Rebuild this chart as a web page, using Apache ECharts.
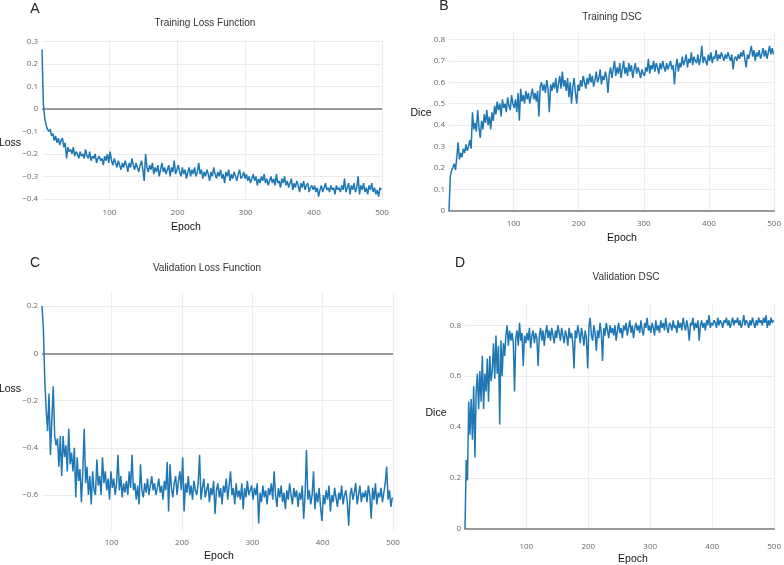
<!DOCTYPE html>
<html><head><meta charset="utf-8">
<script src="https://cdn.jsdelivr.net/npm/echarts@6/dist/echarts.min.js"></script>
<style>html,body{margin:0;padding:0;background:#fff}#c{width:784px;height:565px}</style>
</head><body><div id="c"></div>
<script>
// Epochs: values sampled every 2 epochs starting at epoch 1
const epochStart = 1;
const epochStep = 2;

const trainLoss = [
 0.265,0.02,-0.04,-0.07,-0.09,-0.1,-0.09,-0.12,-0.11,-0.14,
 -0.12,-0.15,-0.13,-0.16,-0.14,-0.13,-0.17,-0.15,-0.22,-0.17,
 -0.19,-0.18,-0.2,-0.17,-0.21,-0.19,-0.2,-0.22,-0.19,-0.21,
 -0.2,-0.22,-0.18,-0.21,-0.22,-0.19,-0.23,-0.21,-0.22,-0.2,
 -0.24,-0.22,-0.21,-0.23,-0.22,-0.25,-0.21,-0.23,-0.2,-0.24,
 -0.19,-0.23,-0.25,-0.22,-0.24,-0.26,-0.23,-0.25,-0.27,-0.24,
 -0.26,-0.23,-0.25,-0.28,-0.24,-0.26,-0.22,-0.25,-0.27,-0.24,
 -0.26,-0.28,-0.25,-0.23,-0.27,-0.32,-0.2,-0.26,-0.28,-0.25,
 -0.27,-0.24,-0.29,-0.26,-0.28,-0.25,-0.3,-0.27,-0.24,-0.28,
 -0.26,-0.29,-0.27,-0.25,-0.3,-0.26,-0.28,-0.23,-0.29,-0.27,
 -0.25,-0.28,-0.3,-0.26,-0.29,-0.27,-0.31,-0.28,-0.26,-0.3,
 -0.27,-0.29,-0.26,-0.3,-0.28,-0.24,-0.29,-0.27,-0.31,-0.28,
 -0.3,-0.27,-0.29,-0.32,-0.28,-0.3,-0.26,-0.29,-0.31,-0.28,
 -0.3,-0.27,-0.31,-0.29,-0.33,-0.28,-0.3,-0.27,-0.32,-0.29,
 -0.31,-0.28,-0.3,-0.32,-0.29,-0.27,-0.31,-0.3,-0.28,-0.31,
 -0.29,-0.32,-0.3,-0.33,-0.31,-0.29,-0.32,-0.3,-0.34,-0.31,
 -0.33,-0.3,-0.32,-0.29,-0.33,-0.31,-0.34,-0.32,-0.3,-0.33,
 -0.31,-0.34,-0.29,-0.33,-0.32,-0.35,-0.31,-0.33,-0.3,-0.34,
 -0.32,-0.35,-0.33,-0.31,-0.36,-0.33,-0.35,-0.32,-0.34,-0.37,
 -0.33,-0.35,-0.32,-0.36,-0.34,-0.33,-0.37,-0.35,-0.34,-0.36,
 -0.34,-0.37,-0.35,-0.39,-0.36,-0.34,-0.37,-0.35,-0.33,-0.36,
 -0.35,-0.37,-0.34,-0.36,-0.35,-0.38,-0.34,-0.36,-0.35,-0.37,
 -0.34,-0.36,-0.31,-0.37,-0.35,-0.33,-0.38,-0.34,-0.36,-0.33,
 -0.37,-0.35,-0.3,-0.38,-0.34,-0.36,-0.33,-0.37,-0.35,-0.38,
 -0.34,-0.36,-0.33,-0.37,-0.35,-0.38,-0.36,-0.39,-0.35,-0.36
];

const trainDice = [
 0,0.16,0.19,0.2,0.22,0.19,0.25,0.32,0.24,0.27,
 0.25,0.29,0.27,0.31,0.28,0.3,0.33,0.29,0.46,0.38,
 0.41,0.37,0.47,0.39,0.34,0.42,0.38,0.45,0.41,0.47,
 0.4,0.44,0.38,0.46,0.42,0.49,0.45,0.51,0.47,0.5,
 0.44,0.52,0.48,0.5,0.46,0.53,0.49,0.47,0.54,0.5,
 0.48,0.52,0.46,0.55,0.42,0.57,0.51,0.54,0.5,0.56,
 0.52,0.55,0.5,0.54,0.57,0.52,0.55,0.51,0.56,0.44,
 0.58,0.6,0.56,0.59,0.55,0.61,0.57,0.46,0.59,0.56,
 0.6,0.57,0.62,0.55,0.59,0.63,0.57,0.65,0.58,0.61,
 0.56,0.62,0.53,0.6,0.5,0.58,0.62,0.55,0.5,0.59,
 0.56,0.61,0.58,0.63,0.6,0.57,0.62,0.59,0.64,0.6,
 0.63,0.58,0.61,0.65,0.6,0.62,0.66,0.59,0.63,0.61,
 0.65,0.62,0.55,0.64,0.67,0.62,0.66,0.7,0.63,0.67,
 0.64,0.69,0.62,0.66,0.7,0.64,0.67,0.63,0.69,0.65,
 0.68,0.62,0.66,0.69,0.64,0.67,0.65,0.62,0.66,0.64,
 0.63,0.67,0.65,0.71,0.64,0.68,0.66,0.7,0.65,0.69,
 0.67,0.64,0.69,0.66,0.7,0.67,0.65,0.69,0.66,0.68,
 0.7,0.66,0.68,0.59,0.67,0.71,0.65,0.69,0.67,0.72,
 0.68,0.7,0.73,0.67,0.71,0.69,0.74,0.68,0.72,0.7,
 0.69,0.73,0.68,0.71,0.77,0.69,0.72,0.7,0.68,0.73,
 0.7,0.74,0.69,0.72,0.71,0.75,0.7,0.73,0.71,0.74,
 0.72,0.7,0.73,0.71,0.74,0.72,0.7,0.73,0.66,0.71,
 0.72,0.7,0.73,0.71,0.74,0.72,0.75,0.71,0.67,0.73,
 0.71,0.74,0.77,0.72,0.75,0.7,0.74,0.72,0.75,0.71,
 0.73,0.76,0.72,0.75,0.71,0.74,0.77,0.73,0.76,0.73
];

const valLoss = [
 0.2,0.1,-0.12,-0.24,-0.33,-0.17,-0.43,-0.28,-0.14,-0.35,
 -0.39,-0.36,-0.48,-0.35,-0.52,-0.35,-0.44,-0.39,-0.5,-0.32,
 -0.47,-0.42,-0.5,-0.4,-0.61,-0.44,-0.54,-0.49,-0.63,-0.5,
 -0.32,-0.55,-0.48,-0.6,-0.52,-0.64,-0.5,-0.58,-0.6,-0.45,
 -0.56,-0.52,-0.6,-0.44,-0.55,-0.5,-0.58,-0.53,-0.62,-0.5,
 -0.57,-0.53,-0.6,-0.55,-0.43,-0.58,-0.52,-0.61,-0.55,-0.59,
 -0.54,-0.6,-0.5,-0.57,-0.43,-0.58,-0.55,-0.62,-0.56,-0.64,
 -0.47,-0.58,-0.61,-0.55,-0.59,-0.53,-0.6,-0.56,-0.52,-0.58,
 -0.55,-0.6,-0.57,-0.53,-0.59,-0.56,-0.62,-0.54,-0.58,-0.46,
 -0.67,-0.47,-0.57,-0.61,-0.55,-0.52,-0.6,-0.54,-0.5,-0.58,
 -0.44,-0.67,-0.55,-0.59,-0.52,-0.6,-0.56,-0.62,-0.54,-0.58,
 -0.6,-0.55,-0.43,-0.62,-0.57,-0.53,-0.61,-0.58,-0.55,-0.63,
 -0.57,-0.6,-0.54,-0.68,-0.58,-0.55,-0.61,-0.57,-0.64,-0.56,
 -0.59,-0.53,-0.62,-0.56,-0.5,-0.6,-0.57,-0.64,-0.55,-0.61,
 -0.58,-0.62,-0.55,-0.66,-0.57,-0.61,-0.54,-0.6,-0.58,-0.56,
 -0.62,-0.57,-0.6,-0.55,-0.72,-0.59,-0.63,-0.56,-0.61,-0.58,
 -0.64,-0.57,-0.6,-0.55,-0.62,-0.5,-0.6,-0.65,-0.57,-0.61,
 -0.56,-0.63,-0.59,-0.66,-0.58,-0.62,-0.55,-0.6,-0.64,-0.57,
 -0.61,-0.58,-0.65,-0.59,-0.62,-0.56,-0.7,-0.6,-0.41,-0.62,
 -0.58,-0.64,-0.6,-0.5,-0.66,-0.59,-0.63,-0.57,-0.65,-0.71,
 -0.6,-0.64,-0.58,-0.62,-0.56,-0.67,-0.6,-0.63,-0.57,-0.61,
 -0.65,-0.59,-0.62,-0.56,-0.64,-0.6,-0.58,-0.63,-0.73,-0.6,
 -0.57,-0.62,-0.59,-0.55,-0.64,-0.6,-0.56,-0.63,-0.59,-0.61,
 -0.58,-0.63,-0.56,-0.6,-0.7,-0.57,-0.62,-0.55,-0.64,-0.59,
 -0.61,-0.57,-0.63,-0.59,-0.55,-0.48,-0.62,-0.58,-0.65,-0.61
];

const valDice = [
 0,0.27,0.19,0.5,0.37,0.51,0.35,0.56,0.28,0.54,
 0.61,0.47,0.62,0.5,0.68,0.47,0.61,0.54,0.67,0.5,
 0.68,0.58,0.62,0.73,0.59,0.76,0.61,0.72,0.41,0.74,
 0.6,0.73,0.68,0.76,0.8,0.72,0.78,0.74,0.77,0.73,
 0.54,0.75,0.78,0.72,0.81,0.74,0.77,0.64,0.76,0.73,
 0.77,0.74,0.79,0.71,0.76,0.78,0.73,0.77,0.75,0.64,
 0.76,0.79,0.74,0.78,0.72,0.77,0.8,0.75,0.78,0.74,
 0.79,0.76,0.73,0.78,0.75,0.8,0.77,0.74,0.79,0.76,
 0.73,0.78,0.76,0.72,0.79,0.75,0.77,0.73,0.63,0.78,
 0.75,0.8,0.77,0.73,0.79,0.76,0.72,0.78,0.75,0.63,
 0.79,0.83,0.76,0.74,0.8,0.77,0.7,0.78,0.75,0.81,
 0.77,0.66,0.79,0.76,0.81,0.78,0.75,0.8,0.77,0.79,
 0.76,0.8,0.74,0.78,0.81,0.77,0.79,0.75,0.8,0.78,
 0.81,0.76,0.79,0.82,0.77,0.8,0.75,0.79,0.81,0.78,
 0.8,0.77,0.82,0.78,0.76,0.81,0.79,0.83,0.78,0.8,
 0.77,0.81,0.79,0.76,0.82,0.78,0.8,0.77,0.82,0.79,
 0.81,0.78,0.83,0.79,0.77,0.81,0.8,0.78,0.82,0.79,
 0.8,0.77,0.82,0.79,0.81,0.78,0.83,0.8,0.78,0.82,
 0.79,0.74,0.81,0.8,0.83,0.78,0.81,0.79,0.82,0.74,
 0.8,0.82,0.79,0.81,0.78,0.82,0.8,0.84,0.79,0.81,
 0.8,0.82,0.81,0.79,0.83,0.8,0.82,0.81,0.79,0.82,
 0.81,0.83,0.8,0.82,0.79,0.81,0.83,0.8,0.82,0.81,
 0.83,0.8,0.82,0.79,0.81,0.84,0.8,0.82,0.81,0.79,
 0.82,0.8,0.83,0.81,0.79,0.82,0.8,0.83,0.81,0.82,
 0.8,0.83,0.81,0.84,0.79,0.82,0.8,0.83,0.81,0.82
];

const xTicks = [100, 200, 300, 400, 500];
const yTicksA = [-0.4, -0.3, -0.2, -0.1, 0, 0.1, 0.2, 0.3];
const yTicksB = [0, 0.1, 0.2, 0.3, 0.4, 0.5, 0.6, 0.7, 0.8];
const yTicksC = [-0.6, -0.4, -0.2, 0, 0.2];
const yTicksD = [0, 0.2, 0.4, 0.6, 0.8];

const titles = ['Training Loss Function', 'Training DSC', 'Validation Loss Function', 'Validation DSC'];
const letters = ['A', 'B', 'C', 'D'];
const yNames = ['Loss', 'Dice', 'Loss', 'Dice'];
const xName = 'Epoch';

const seriesValues = [trainLoss, trainDice, valLoss, valDice];
const yTicks = [yTicksA, yTicksB, yTicksC, yTicksD];

// layout of each panel (pixels)
const panels = [
  {grid:{left:42, right:402, top:40, bottom:365}, ymin:-0.405, ymax:0.307, zero:true, xm:9,
   title:[205,23], letter:[35,9], yname:[10,143], xname:[186,227]},
  {grid:{left:449, right:6, top:32, bottom:354.3}, ymin:0, ymax:0.835, zero:false, xm:9,
   title:[612,17], letter:[444,6], yname:[421,113], xname:[622,238]},
  {grid:{left:42, right:391, top:293, bottom:35}, ymin:-0.748, ymax:0.255, zero:true, xm:9,
   title:[207,268], letter:[35,263], yname:[10,389], xname:[219,556]},
  {grid:{left:465, right:6.3, top:303, bottom:36.3}, ymin:0, ymax:0.888, zero:false, xm:14,
   title:[626,277], letter:[460,263], yname:[436,413], xname:[633,559]}
];

function toPairs(vals) {
  return vals.map((v, i) => [epochStart + i * epochStep, v]);
}
function fmtY(v) {
  const r = Math.round(v * 10) / 10;
  if (r === 0) return '0';
  return r < 0 ? '\u2212' + String(Math.abs(r)) : String(r);
}

const tickFont = {fontSize: 8, color: '#666', fontFamily: '"Open Sans", "DejaVu Sans", sans-serif'};
const grids = [], xAxes = [], yAxes = [], series = [], graphics = [];

panels.forEach((p, i) => {
  grids.push(Object.assign({containLabel: false}, p.grid));
  xAxes.push({
    gridIndex: i, type: 'value', min: 1, max: 500,
    axisLine: {show: !p.zero, onZero: false, lineStyle: {color: '#999', width: 2}},
    axisTick: {show: false, customValues: xTicks},
    axisLabel: Object.assign({customValues: xTicks, margin: p.xm}, tickFont),
    splitLine: {show: true, lineStyle: {color: '#ececec', width: 1}}
  });
  yAxes.push({
    gridIndex: i, type: 'value', min: p.ymin, max: p.ymax,
    axisLine: {show: false},
    axisTick: {show: false, customValues: yTicks[i]},
    axisLabel: Object.assign({customValues: yTicks[i], margin: 4, formatter: fmtY}, tickFont),
    splitLine: {show: true, lineStyle: {color: '#ececec', width: 1}}
  });
  const s = {
    type: 'line', xAxisIndex: i, yAxisIndex: i,
    data: toPairs(seriesValues[i]),
    symbol: 'none', showSymbol: false,
    lineStyle: {color: '#1f77b4', width: 1.5},
    itemStyle: {color: '#1f77b4'},
    animation: false
  };
  if (p.zero) {
    s.markLine = {
      silent: true, symbol: ['none', 'none'], label: {show: false},
      lineStyle: {color: '#999', width: 2, type: 'solid'},
      data: [{yAxis: 0}], animation: false, z: 1
    };
  }
  series.push(s);

  graphics.push({type: 'text', x: p.title[0], y: p.title[1],
    style: {text: titles[i], fill: '#333', font: '10px "Liberation Sans", Arial, sans-serif', align: 'center', verticalAlign: 'middle'}});
  graphics.push({type: 'text', x: p.letter[0], y: p.letter[1],
    style: {text: letters[i], fill: '#222', font: '14px "Liberation Sans", Arial, sans-serif', align: 'center', verticalAlign: 'middle'}});
  graphics.push({type: 'text', x: p.yname[0], y: p.yname[1],
    style: {text: yNames[i], fill: '#111', font: '10.5px "Liberation Sans", Arial, sans-serif', align: 'center', verticalAlign: 'middle'}});
  graphics.push({type: 'text', x: p.xname[0], y: p.xname[1],
    style: {text: xName, fill: '#111', font: '10.5px "Liberation Sans", Arial, sans-serif', align: 'center', verticalAlign: 'middle'}});
});

const chart = echarts.init(document.getElementById('c'), null, {renderer: 'canvas'});
chart.setOption({
  backgroundColor: '#fff',
  animation: false,
  grid: grids, xAxis: xAxes, yAxis: yAxes, series: series,
  graphic: graphics
});
</script></body></html>
